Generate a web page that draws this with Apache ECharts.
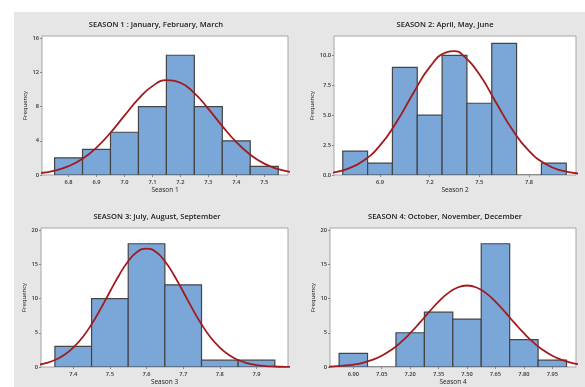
<!DOCTYPE html>
<html>
<head>
<meta charset="utf-8">
<script src="https://cdn.jsdelivr.net/npm/echarts@6/dist/echarts.min.js"></script>
<style>
html,body{margin:0;padding:0;background:#fff;}
#c{width:585px;height:387px;}
</style>
</head>
<body>
<div id="c"></div>
<script>
// ---- DATA ----
const titles = [
  'SEASON 1 : January, February, March',
  'SEASON 2: April, May, June',
  'SEASON 3: July, August, September',
  'SEASON 4: October, November, December'
];
const xNames = ['Season 1', 'Season 2', 'Season 3', 'Season 4'];

// Season 1
const s1Centers = [6.8, 6.9, 7.0, 7.1, 7.2, 7.3, 7.4, 7.5];
const s1Counts  = [2, 3, 5, 8, 14, 8, 4, 1];
const s1BinWidth = 0.1;
const s1CurveX = [6.70, 6.75, 6.80, 6.85, 6.90, 6.95, 7.00, 7.05, 7.10, 7.15, 7.20, 7.25, 7.30, 7.35, 7.40, 7.45, 7.50, 7.55, 7.60];
const s1CurveY = [0.23, 0.51, 1.03, 1.90, 3.21, 4.94, 6.94, 8.89, 10.39, 11.08, 10.78, 9.57, 7.74, 5.72, 3.85, 2.37, 1.33, 0.68, 0.32];
const s1XTicks = [6.8, 6.9, 7.0, 7.1, 7.2, 7.3, 7.4, 7.5];
const s1YTicks = [0, 4, 8, 12, 16];

// Season 2
const s2Centers = [6.75, 6.90, 7.05, 7.20, 7.35, 7.50, 7.65, 7.80, 7.95];
const s2Counts  = [2, 1, 9, 5, 10, 6, 11, 0, 1];
const s2BinWidth = 0.15;
const s2CurveX = [6.60, 6.70, 6.80, 6.90, 7.00, 7.10, 7.20, 7.30, 7.35, 7.40, 7.50, 7.60, 7.70, 7.80, 7.90, 8.00, 8.10];
const s2CurveY = [0.17, 0.49, 1.19, 2.47, 4.43, 6.81, 9.02, 10.25, 10.35, 10.02, 8.42, 6.08, 3.78, 2.01, 0.92, 0.36, 0.12];
const s2XTicks = [6.9, 7.2, 7.5, 7.8];
const s2YTicks = [0, 2.5, 5.0, 7.5, 10.0];

// Season 3
const s3Centers = [7.4, 7.5, 7.6, 7.7, 7.8, 7.9];
const s3Counts  = [3, 10, 18, 12, 1, 1];
const s3BinWidth = 0.1;
const s3CurveX = [7.300, 7.325, 7.350, 7.375, 7.400, 7.425, 7.450, 7.475, 7.500, 7.525, 7.550, 7.575, 7.600, 7.625, 7.650, 7.675, 7.700, 7.725, 7.750, 7.775, 7.800, 7.825, 7.850, 7.875, 7.900, 7.925, 7.950, 7.975, 8.000];
const s3CurveY = [0.29, 0.56, 1.02, 1.74, 2.82, 4.31, 6.24, 8.52, 10.99, 13.40, 15.45, 16.82, 17.30, 16.82, 15.45, 13.40, 10.99, 8.52, 6.24, 4.31, 2.82, 1.74, 1.02, 0.56, 0.29, 0.14, 0.07, 0.03, 0.01];
const s3XTicks = [7.4, 7.5, 7.6, 7.7, 7.8, 7.9];
const s3YTicks = [0, 5, 10, 15, 20];

// Season 4
const s4Centers = [6.90, 7.05, 7.20, 7.35, 7.50, 7.65, 7.80, 7.95];
const s4Counts  = [2, 0, 5, 8, 7, 18, 4, 1];
const s4BinWidth = 0.15;
const s4CurveX = [6.75, 6.80, 6.85, 6.90, 6.95, 7.00, 7.05, 7.10, 7.15, 7.20, 7.25, 7.30, 7.35, 7.40, 7.45, 7.50, 7.55, 7.60, 7.65, 7.70, 7.75, 7.80, 7.85, 7.90, 7.95, 8.00, 8.05, 8.10];
const s4CurveY = [0.05, 0.10, 0.19, 0.35, 0.62, 1.03, 1.64, 2.49, 3.59, 4.93, 6.45, 8.04, 9.55, 10.79, 11.61, 11.90, 11.61, 10.79, 9.55, 8.04, 6.45, 4.93, 3.59, 2.49, 1.64, 1.03, 0.62, 0.35];
const s4XTicks = [6.90, 7.05, 7.20, 7.35, 7.50, 7.65, 7.80, 7.95];
const s4YTicks = [0, 5, 10, 15, 20];

// ---- LAYOUT / STYLE ----
const seasons = [
  {c:s1Centers, n:s1Counts, w:s1BinWidth, cx:s1CurveX, cy:s1CurveY, xt:s1XTicks, yt:s1YTicks, xd:1, yd:0,
   grid:{left:42, top:36, width:246, height:139}, xr:[6.705, 7.585], yr:[0, 16.25], yGap:13, title:[156, 25]},
  {c:s2Centers, n:s2Counts, w:s2BinWidth, cx:s2CurveX, cy:s2CurveY, xt:s2XTicks, yt:s2YTicks, xd:1, yd:1,
   grid:{left:334, top:36, width:242, height:139}, xr:[6.622, 8.084], yr:[0, 11.62], yGap:18, title:[445, 25]},
  {c:s3Centers, n:s3Counts, w:s3BinWidth, cx:s3CurveX, cy:s3CurveY, xt:s3XTicks, yt:s3YTicks, xd:1, yd:0,
   grid:{left:41, top:228, width:247, height:139}, xr:[7.312, 7.986], yr:[0, 20.3], yGap:14, title:[157, 217]},
  {c:s4Centers, n:s4Counts, w:s4BinWidth, cx:s4CurveX, cy:s4CurveY, xt:s4XTicks, yt:s4YTicks, xd:2, yd:0,
   grid:{left:330, top:228, width:246, height:139}, xr:[6.777, 8.075], yr:[0, 20.3], yGap:14, title:[445, 217]}
];

const FONT = 'Open Sans';
const BAR_FILL = '#7ba6d8';
const BAR_EDGE = '#454545';
const CURVE = '#a21a1e';
const FRAME = '#a5a5a5';

const grid = [], xAxis = [], yAxis = [], series = [], graphic = [];

graphic.push({type:'rect', left:14, top:12, shape:{width:571, height:375}, style:{fill:'#e6e6e6'}, z:-10, silent:true});

seasons.forEach((s, i) => {
  grid.push(Object.assign({show:true, backgroundColor:'#ffffff', borderColor:FRAME, borderWidth:1}, s.grid));
  xAxis.push({
    type:'value', gridIndex:i, min:s.xr[0], max:s.xr[1],
    name:xNames[i], nameLocation:'middle', nameGap:12,
    nameTextStyle:{fontFamily:FONT, fontSize:6.5, fontWeight:500, color:'#1a1a1a'},
    axisLine:{show:false},
    axisTick:{show:true, length:2, inside:false, lineStyle:{color:'#888'}, customValues:s.xt},
    axisLabel:{fontFamily:FONT, fontSize:5.7, fontWeight:600, color:'#333', margin:4, customValues:s.xt,
      formatter:(v) => Number(v).toFixed(s.xd)},
    splitLine:{show:false}
  });
  yAxis.push({
    type:'value', gridIndex:i, min:s.yr[0], max:s.yr[1],
    name:'Frequency', nameLocation:'middle', nameGap:s.yGap, nameRotate:90,
    nameTextStyle:{fontFamily:FONT, fontSize:6, fontWeight:500, color:'#1a1a1a'},
    axisLine:{show:false},
    axisTick:{show:true, length:2, inside:false, lineStyle:{color:'#888'}, customValues:s.yt},
    axisLabel:{fontFamily:FONT, fontSize:5.7, fontWeight:600, color:'#333', margin:3, customValues:s.yt,
      formatter:(v) => Number(v).toFixed(s.yd)},
    splitLine:{show:false}
  });
  const barData = s.c.map((c, k) => [c - s.w / 2, c + s.w / 2, s.n[k]]);
  series.push({
    type:'custom', xAxisIndex:i, yAxisIndex:i, clip:true, z:2,
    data:barData,
    encode:{x:[0,1], y:2},
    renderItem:(params, api) => {
      const p0 = api.coord([api.value(0), api.value(2)]);
      const p1 = api.coord([api.value(1), 0]);
      return {type:'rect', shape:{x:p0[0], y:p0[1], width:p1[0]-p0[0], height:p1[1]-p0[1]},
        style:{fill:BAR_FILL, stroke:BAR_EDGE, lineWidth:1.2}};
    }
  });
  series.push({
    type:'line', xAxisIndex:i, yAxisIndex:i, clip:true, z:5,
    data:s.cx.map((x, k) => [x, s.cy[k]]),
    smooth:0.5, showSymbol:false, symbol:'none',
    lineStyle:{color:CURVE, width:1.8}
  });
  graphic.push({type:'text', x:s.title[0], y:s.title[1], z:10,
    style:{text:titles[i], fontFamily:FONT, fontSize:7.6, fontWeight:600, fill:'#1a1a1a',
      align:'center', verticalAlign:'middle'}});
});

const chart = echarts.init(document.getElementById('c'), null, {renderer:'canvas'});
chart.setOption({animation:false, backgroundColor:'#ffffff', grid, xAxis, yAxis, series, graphic});
</script>
</body>
</html>
